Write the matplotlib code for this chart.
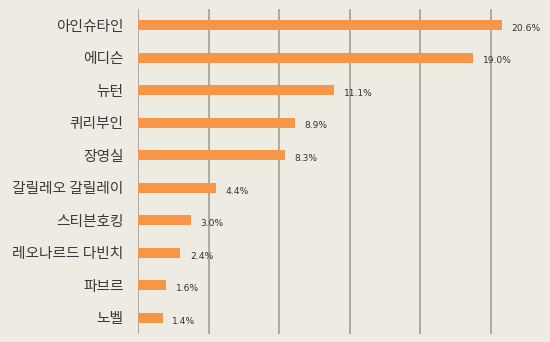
import matplotlib
matplotlib.use("Agg")
import matplotlib.pyplot as plt

categories = ["아인슈타인", "에디슨", "뉴턴", "퀴리부인", "장영실",
              "갈릴레오 갈릴레이", "스티븐호킹", "레오나르드 다빈치", "파브르", "노벨"]
values = [20.6, 19.0, 11.1, 8.9, 8.3, 4.4, 3.0, 2.4, 1.6, 1.4]
value_labels = ["20.6%", "19.0%", "11.1%", "8.9%", "8.3%", "4.4%", "3.0%", "2.4%", "1.6%", "1.4%"]

plt.rcParams['font.family'] = ['Noto Sans CJK KR', 'DejaVu Sans']

bg = "#EEEBE2"
fig = plt.figure(figsize=(5.5, 3.42), dpi=100, facecolor=bg)
ax = fig.add_axes([0.251, 0.023, 0.722, 0.951], facecolor=bg)

ypos = list(range(len(categories)))
ax.barh(ypos, values, height=0.31, color="#F79646", zorder=3)
ax.set_ylim(len(categories) - 0.5, -0.5)
ax.set_xlim(0, 22.5)
ax.set_xticks([0, 4, 8, 12, 16, 20])
ax.xaxis.grid(True, color="#A29E96", linewidth=1.2, zorder=0)
ax.tick_params(axis="x", bottom=False, labelbottom=False)
ax.tick_params(axis="y", left=False, pad=7)
ax.set_yticks(ypos)
ax.set_yticklabels(categories, fontsize=10.6, color="#3A3A3A")
for s in ax.spines.values():
    s.set_visible(False)

for y, v, lab in zip(ypos, values, value_labels):
    ax.text(v + 0.55, y + 0.1, lab, fontsize=6.6, color="#333333",
            va="center", ha="left", family=['DejaVu Sans'], zorder=4)

fig.savefig("out.png", dpi=100, facecolor=bg)
